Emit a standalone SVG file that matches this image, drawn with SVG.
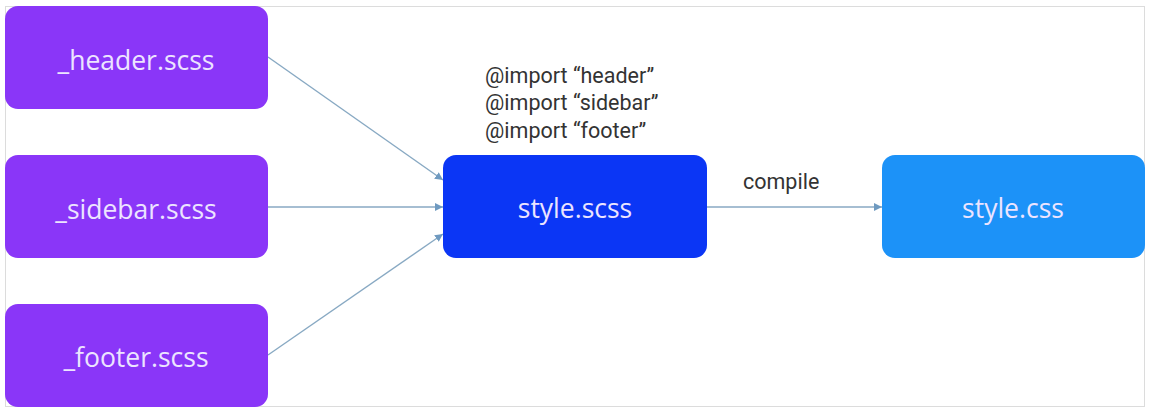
<svg xmlns="http://www.w3.org/2000/svg" width="1159" height="413" viewBox="0 0 1159 413">
<style>
.node text{font-family:"Open Sans","Noto Sans",sans-serif;font-size:26.5px;fill:#ece4ff;text-anchor:middle}
.p rect{fill:#8a36f8}
.lbl{font-family:Roboto,"Liberation Sans",sans-serif;font-size:21.5px;fill:#333}
.edge{stroke:#88a9c3;stroke-width:1.4;fill:none;marker-end:url(#ah)}
</style>
<defs>
<marker id="ah" viewBox="0 0 10 10" refX="10" refY="5" markerWidth="8" markerHeight="8" markerUnits="userSpaceOnUse" orient="auto">
<path d="M0,0 L10,5 L0,10 z" fill="#6f9ac0"/>
</marker>
</defs>
<rect x="0" y="0" width="1159" height="413" fill="#fff"/>
<rect x="5.5" y="6.5" width="1139" height="400" fill="none" stroke="#dcdcdc" stroke-width="1"/>
<g id="connectors">
<line class="edge" x1="268" y1="57" x2="443" y2="180"/>
<line class="edge" x1="268" y1="207" x2="443" y2="207"/>
<line class="edge" x1="268" y1="355" x2="443" y2="234"/>
<line class="edge" x1="707" y1="207" x2="882" y2="207"/>
<text class="lbl" x="743" y="189">compile</text>
</g>
<g id="header" class="node p"><rect x="5" y="6" width="263" height="103" rx="13"/><text x="136" y="70">_header.scss</text></g>
<g id="sidebar" class="node p"><rect x="5" y="155" width="263" height="103" rx="13"/><text x="136" y="219">_sidebar.scss</text></g>
<g id="footer" class="node p"><rect x="5" y="304" width="263" height="103" rx="13"/><text x="136" y="367">_footer.scss</text></g>
<g id="style-scss" class="node"><rect x="443" y="155" width="264" height="103" rx="13" fill="#0b36f5"/><text x="575" y="218">style.scss</text></g>
<g id="style-css" class="node"><rect x="882" y="155" width="263" height="103" rx="13" fill="#1c92f8"/><text x="1013" y="218">style.css</text></g>
<g id="imports">
<text class="lbl" x="485" y="83">@import “header”</text>
<text class="lbl" x="485" y="110">@import “sidebar”</text>
<text class="lbl" x="485" y="138">@import “footer”</text>
</g>
</svg>
